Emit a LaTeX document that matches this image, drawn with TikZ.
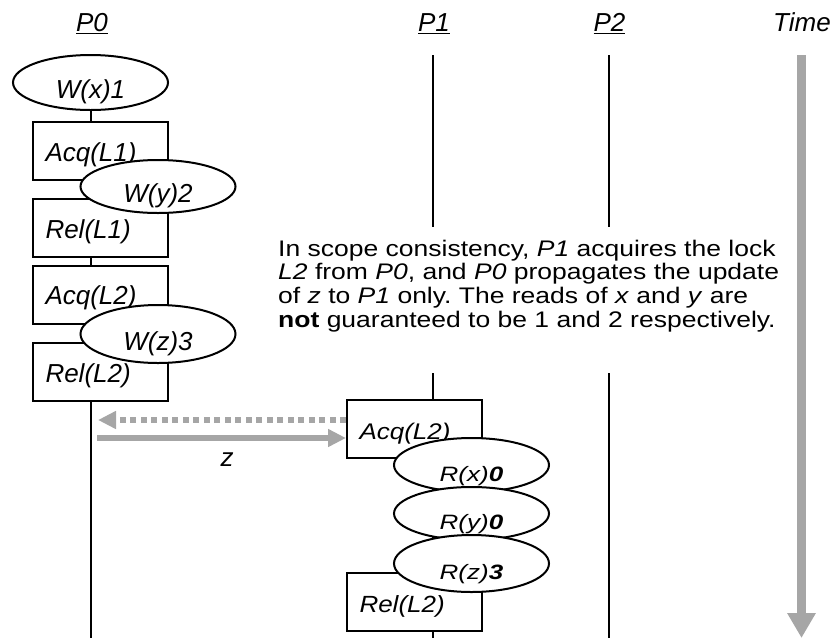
\documentclass[tikz,border=0pt]{standalone}
\usepackage{fontspec}
\setmainfont{Liberation Sans}
\usepackage{graphicx}
\usepackage{xcolor}
\usepackage{tikz}
\usetikzlibrary{shapes,positioning,calc,arrows.meta}

\definecolor{arrowgray}{RGB}{166,166,166}
\newcommand{\squash}[2]{\scalebox{1}[#1]{#2}}
\frenchspacing

\tikzset{
    evbox/.style={draw, fill=white, line width=2pt, minimum height=58pt,
        text width=110pt, inner xsep=12.5pt, inner ysep=0pt, align=left,
        text height=20pt, text depth=0pt},
    evoval/.style={ellipse, draw, fill=white, line width=2pt, inner sep=0pt,
        minimum width=155pt, minimum height=55pt, text height=32pt, text depth=0pt},
    proclabel/.style={anchor=base, inner sep=0pt},
    lifeline/.style={line width=2pt},
    msgarrow/.style={draw=arrowgray, line width=5.5pt, -{Triangle[width=17pt,length=18pt]}},
    timearrow/.style={draw=arrowgray, line width=9pt, -{Triangle[width=27pt,length=25pt]}}
}

\begin{document}
\begin{tikzpicture}[x=1pt, y=-1pt, font=\itshape\fontsize{26}{31}\selectfont]
    \useasboundingbox (0,0) rectangle (833,638);

    % Process labels
    \node[proclabel] (p0) at (92,31.7) {\underline{P0}};
    \node[proclabel] (p1) at (434,31.7) {\underline{P1}};
    \node[proclabel] (p2) at (609.5,31.7) {\underline{P2}};
    \node[proclabel] (time) at (802,31.7) {Time};

    % Lifelines
    \coordinate (p0top) at (90.5,82);
    \coordinate (p0bot) at (90.5,638);
    \coordinate (p1top) at (433,55);
    \coordinate (p1gap) at (433,227);
    \coordinate (p1low) at (433,373);
    \coordinate (p1bot) at (433,638);
    \coordinate (p2top) at (609,55);
    \coordinate (p2gap) at (609,227);
    \coordinate (p2low) at (609,373);
    \coordinate (p2bot) at (609,638);
    \draw[lifeline] (p0top) -- (p0bot);
    \draw[lifeline] (p1top) -- (p1gap);
    \draw[lifeline] (p1low) -- (p1bot);
    \draw[lifeline] (p2top) -- (p2gap);
    \draw[lifeline] (p2low) -- (p2bot);

    % Time
    \coordinate (timetop) at (801.5,55);
    \coordinate (timebot) at (801.5,638);
    \draw[timearrow] (timetop) -- (timebot);

    % Events on P0
    \node[evbox] (acqA) at (100.5,151) {Acq(L1)};
    \node[evbox] (relA) at (100.5,228) {Rel(L1)};
    \node[evbox] (acqB) at (100.5,294.5) {Acq(L2)};
    \node[evbox] (relB) at (100.5,372) {Rel(L2)};
    \node[evoval] (wx) at (90.5,82.5) {W(x)1};
    \node[evoval, minimum height=53pt] (wy) at (158,186.5) {W(y)2};
    \node[evoval, minimum height=58pt] (wz) at (158,334) {W(z)3};

    % Events on P1
    \node[evbox] (acqC) at (414.5,429) {\squash{0.87}{Acq(L2)}};
    \node[evbox] (relC) at (414.5,602) {\squash{0.9}{Rel(L2)}};
    \node[evoval, minimum height=54pt] (rx) at (471.5,465) {\squash{0.8}{R(x)\textbf{0}}};
    \node[evoval, minimum height=53pt] (ry) at (471.5,513.5) {\squash{0.8}{R(y)\textbf{0}}};
    \node[evoval, minimum height=57pt] (rz) at (471.5,563.5) {\squash{0.8}{R(z)\textbf{3}}};

    % Lock transfer
    \coordinate (req) at (98,420);
    \coordinate (upd) at (97,438);
    \draw[msgarrow, dash pattern=on 6pt off 4.5pt] (req -| acqC.west) -- (req);
    \draw[msgarrow] (upd) -- (upd -| acqC.west);
    \node (zlbl) at (227,460) {z};

    % Note
    \node[anchor=base west, inner sep=0pt, font=\upshape] (note) at (278,256)
        {\squash{0.85}{\parbox[t]{530pt}{\raggedright\fontsize{26.5}{28.2}\selectfont
        In scope consistency, \textit{P1} acquires the lock\\
        \textit{L2} from \textit{P0}, and \textit{P0} propagates the update\\
        of \textit{z} to \textit{P1} only. The reads of \textit{x} and \textit{y} are\\
        \textbf{not} guaranteed to be 1 and 2 respectively.}}};
\end{tikzpicture}
\end{document}
